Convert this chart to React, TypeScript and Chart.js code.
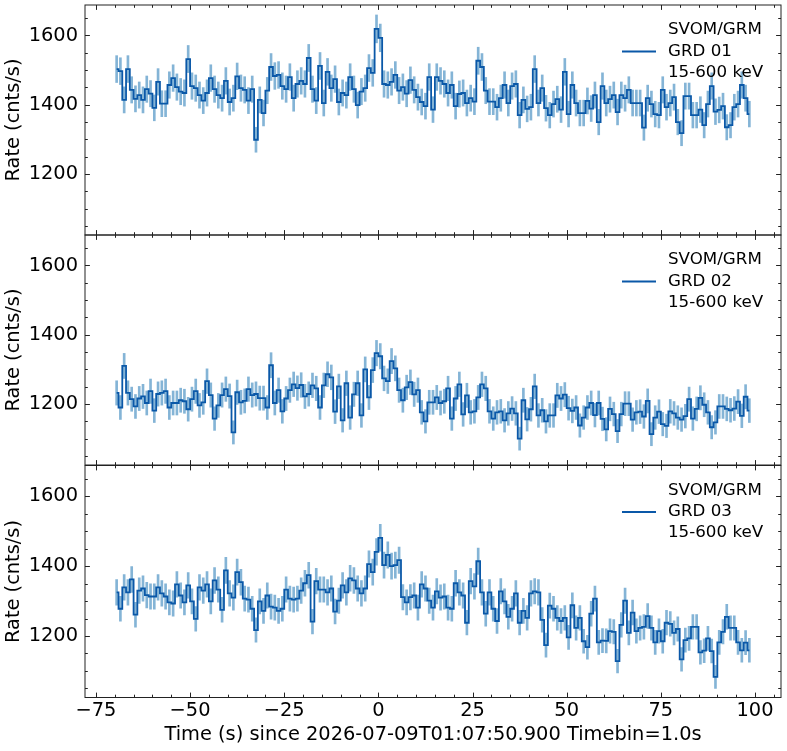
import { useEffect, useRef } from "react"
import { Chart, registerables } from "chart.js"

Chart.register(...registerables)
Chart.defaults.font.family = "'DejaVu Sans', sans-serif"
Chart.defaults.color = "#000"

// time grid: 1 s bins, centres from -69.5 s
const T_START = -69.5
const TIMEBIN = 1.0

const X_MIN = -77.9
const X_MAX = 106.9
const Y_MIN = 1024
const Y_MAX = 1688
const X_MAJOR = [-75, -50, -25, 0, 25, 50, 75, 100]
const Y_MAJOR = [1200, 1400, 1600]
const X_MINOR_STEP = 5
const Y_MINOR_STEP = 50

const X_TITLE = "Time (s) since 2026-07-09T01:07:50.900 Timebin=1.0s"
const Y_TITLE = "Rate (cnts/s)"
const INSTRUMENT = "SVOM/GRM"
const ENERGY_BAND = "15-600 keV"
const DETECTORS = ["GRD 01", "GRD 02", "GRD 03"]

// count rates (cnts/s) per bin
const GRD01_RATE = [
  1503, 1497, 1414, 1503, 1443, 1417, 1428, 1414, 1445, 1432,
  1391, 1466, 1403, 1403, 1457, 1477, 1451, 1438, 1434, 1532,
  1454, 1448, 1428, 1412, 1434, 1477, 1445, 1428, 1419, 1469,
  1408, 1419, 1482, 1448, 1443, 1412, 1445, 1299, 1414, 1376,
  1441, 1509, 1483, 1486, 1454, 1445, 1480, 1419, 1460, 1469,
  1460, 1535, 1445, 1412, 1512, 1405, 1495, 1448, 1474, 1408,
  1434, 1428, 1480, 1445, 1399, 1438, 1448, 1506, 1492, 1619,
  1593, 1460, 1457, 1466, 1486, 1441, 1451, 1432, 1471, 1443,
  1422, 1408, 1396, 1480, 1386, 1480, 1469, 1460, 1434, 1457,
  1396, 1431, 1434, 1405, 1419, 1409, 1527, 1509, 1441, 1409,
  1409, 1393, 1419, 1457, 1405, 1454, 1460, 1370, 1414, 1388,
  1393, 1503, 1405, 1448, 1390, 1370, 1402, 1416, 1386, 1495,
  1373, 1457, 1405, 1376, 1376, 1411, 1389, 1428, 1350, 1454,
  1405, 1416, 1428, 1379, 1428, 1419, 1443, 1405, 1405, 1405,
  1334, 1419, 1402, 1373, 1370, 1443, 1393, 1405, 1422, 1350,
  1318, 1425, 1425, 1370, 1370, 1386, 1341, 1402, 1454, 1380,
  1385, 1396, 1335, 1341, 1393, 1402, 1457, 1419, 1373,
]

const GRD02_RATE = [
  1232, 1190, 1310, 1232, 1214, 1193, 1216, 1222, 1203, 1237,
  1181, 1229, 1232, 1237, 1190, 1203, 1203, 1211, 1208, 1185,
  1214, 1237, 1196, 1205, 1266, 1226, 1158, 1196, 1226, 1243,
  1223, 1118, 1234, 1205, 1209, 1243, 1226, 1229, 1217, 1217,
  1190, 1312, 1203, 1240, 1179, 1216, 1240, 1257, 1246, 1255,
  1222, 1229, 1254, 1245, 1190, 1254, 1286, 1277, 1178, 1251,
  1153, 1260, 1161, 1228, 1260, 1167, 1300, 1219, 1298, 1347,
  1338, 1274, 1266, 1324, 1303, 1240, 1211, 1248, 1263, 1228,
  1240, 1176, 1150, 1205, 1205, 1219, 1203, 1208, 1245, 1158,
  1216, 1257, 1170, 1225, 1176, 1179, 1219, 1257, 1245, 1179,
  1158, 1176, 1179, 1153, 1173, 1187, 1173, 1100, 1211, 1156,
  1185, 1251, 1167, 1182, 1150, 1167, 1167, 1225, 1216, 1227,
  1188, 1180, 1190, 1138, 1161, 1190, 1203, 1168, 1203, 1157,
  1127, 1186, 1171, 1122, 1171, 1201, 1201, 1155, 1176, 1178,
  1164, 1209, 1113, 1161, 1178, 1142, 1137, 1179, 1173, 1161,
  1155, 1165, 1214, 1158, 1186, 1218, 1198, 1176, 1133, 1147,
  1193, 1193, 1186, 1182, 1187, 1207, 1166, 1221, 1181,
]

const GRD03_RATE = [
  1325, 1278, 1339, 1325, 1362, 1261, 1330, 1336, 1317, 1313,
  1313, 1339, 1322, 1313, 1296, 1293, 1348, 1316, 1296, 1345,
  1299, 1249, 1339, 1330, 1348, 1299, 1359, 1333, 1275, 1388,
  1322, 1310, 1383, 1354, 1307, 1304, 1278, 1217, 1299, 1272,
  1316, 1284, 1281, 1272, 1278, 1333, 1307, 1304, 1307, 1330,
  1351, 1374, 1241, 1357, 1333, 1333, 1325, 1336, 1270, 1301,
  1345, 1325, 1365, 1359, 1336, 1322, 1336, 1406, 1383, 1441,
  1481, 1403, 1432, 1400, 1403, 1417, 1311, 1296, 1311, 1316,
  1281, 1348, 1336, 1301, 1281, 1328, 1310, 1313, 1281, 1278,
  1351, 1325, 1316, 1238, 1357, 1342, 1414, 1325, 1264, 1325,
  1278, 1243, 1328, 1299, 1255, 1278, 1322, 1238, 1272, 1252,
  1322, 1328, 1325, 1246, 1174, 1287, 1278, 1252, 1243, 1252,
  1196, 1288, 1223, 1252, 1185, 1168, 1264, 1307, 1182, 1187,
  1186, 1214, 1212, 1128, 1232, 1301, 1209, 1267, 1214, 1223,
  1226, 1257, 1223, 1182, 1214, 1185, 1238, 1235, 1209, 1220,
  1133, 1188, 1193, 1226, 1226, 1153, 1158, 1193, 1157, 1083,
  1182, 1212, 1255, 1223, 1223, 1182, 1159, 1181, 1159,
]

const LINE_COLOR = "#0a58a8"
const ERR_COLOR = "rgba(31, 119, 180, 0.55)"
const FRAME_COLOR = "#222"
const FONT_SIZE = 19.4

const framePlugin = {
  id: "frame",
  afterDraw(chart: any, _args: any, opts: any) {
    const { ctx, chartArea, scales } = chart
    const { left, right, top, bottom } = chartArea
    ctx.save()
    ctx.strokeStyle = FRAME_COLOR
    ctx.lineWidth = 1
    ctx.strokeRect(left, top, right - left, bottom - top)

    // inward ticks on all four sides
    ctx.beginPath()
    for (let v = Math.ceil(X_MIN / X_MINOR_STEP) * X_MINOR_STEP; v <= X_MAX; v += X_MINOR_STEP) {
      const px = Math.round(scales.x.getPixelForValue(v)) + 0.5
      const len = X_MAJOR.includes(v) ? 4.9 : 2.8
      ctx.moveTo(px, bottom)
      ctx.lineTo(px, bottom - len)
      ctx.moveTo(px, top)
      ctx.lineTo(px, top + len)
    }
    for (let v = Math.ceil(Y_MIN / Y_MINOR_STEP) * Y_MINOR_STEP; v <= Y_MAX; v += Y_MINOR_STEP) {
      const py = Math.round(scales.y.getPixelForValue(v)) + 0.5
      const len = Y_MAJOR.includes(v) ? 4.9 : 2.8
      ctx.moveTo(left, py)
      ctx.lineTo(left + len, py)
      ctx.moveTo(right, py)
      ctx.lineTo(right - len, py)
    }
    ctx.stroke()

    // legend
    const lines = [INSTRUMENT, opts.detector, ENERGY_BAND]
    ctx.fillStyle = "#000"
    ctx.font = "16.7px 'DejaVu Sans'"
    ctx.textAlign = "left"
    ctx.textBaseline = "alphabetic"
    lines.forEach((s: string, i: number) => ctx.fillText(s, right - 113, top + 29.3 + i * 21.3))
    ctx.strokeStyle = LINE_COLOR
    ctx.lineWidth = 1.8
    ctx.beginPath()
    ctx.moveTo(right - 159, top + 46.5)
    ctx.lineTo(right - 125, top + 46.5)
    ctx.stroke()
    ctx.restore()
  },
}

interface PanelProps {
  rates: number[]
  detector: string
  top: number
  height: number
  padTop: number
  padBottom: number
  showXAxis: boolean
}

function Panel({ rates, detector, top, height, padTop, padBottom, showXAxis }: PanelProps) {
  const canvasRef = useRef<HTMLCanvasElement>(null)

  useEffect(() => {
    if (!canvasRef.current) return
    const times = rates.map((_, i) => T_START + i * TIMEBIN)
    const errors = rates.map((r) => Math.sqrt(r * TIMEBIN) / TIMEBIN)

    const chart = new Chart(canvasRef.current, {
      type: "bar",
      data: {
        datasets: [
          {
            type: "line",
            data: rates.map((r, i) => ({ x: times[i], y: r })),
            borderColor: LINE_COLOR,
            borderWidth: 1.8,
            stepped: "middle",
            pointRadius: 0,
            fill: false,
            order: 0,
          },
          {
            type: "bar",
            data: rates.map((r, i) => ({ x: times[i], y: [r - errors[i], r + errors[i]] })),
            backgroundColor: ERR_COLOR,
            borderWidth: 0,
            barThickness: 2,
            grouped: false,
            order: 1,
          },
        ] as any,
      },
      options: {
        responsive: false,
        animation: false,
        events: [],
        layout: { padding: { top: padTop, bottom: padBottom, left: 0, right: 6 } },
        plugins: {
          legend: { display: false },
          tooltip: { enabled: false },
          frame: { detector },
        } as any,
        scales: {
          x: {
            type: "linear",
            min: X_MIN,
            max: X_MAX,
            offset: false,
            display: showXAxis,
            grid: { display: false, drawTicks: false },
            border: { display: false },
            afterBuildTicks: (s: any) => {
              s.ticks = X_MAJOR.map((value) => ({ value }))
            },
            ticks: {
              font: { size: FONT_SIZE },
              padding: 2,
              maxRotation: 0,
              autoSkip: false,
              callback: (v: any) => `${v}`.replace("-", "\u2212"),
            },
            title: { display: true, text: X_TITLE, font: { size: FONT_SIZE }, padding: { top: 0, bottom: 4 } },
            afterFit: (s: any) => {
              if (!showXAxis) return
              s.height = 53.5
              s.paddingLeft = 0
              s.paddingRight = 0
            },
          },
          y: {
            type: "linear",
            min: Y_MIN,
            max: Y_MAX,
            grid: { display: false, drawTicks: false },
            border: { display: false },
            afterBuildTicks: (s: any) => {
              s.ticks = Y_MAJOR.map((value) => ({ value }))
            },
            ticks: { font: { size: FONT_SIZE }, padding: 7, callback: (v: any) => `${v}` },
            title: { display: true, text: Y_TITLE, font: { size: FONT_SIZE }, padding: { top: 2.5, bottom: 0 } },
            afterFit: (s: any) => {
              s.width = 85
              s.paddingTop = 0
              s.paddingBottom = 0
            },
          },
        },
      } as any,
      plugins: [framePlugin],
    })

    return () => {
      chart.destroy()
    }
  }, [rates, detector, padTop, padBottom, showXAxis])

  return (
    <canvas
      ref={canvasRef}
      width={787}
      height={height}
      style={{ position: "absolute", left: 0, top, width: 787, height }}
    />
  )
}

export default function App() {
  return (
    <div style={{ position: "absolute", left: 0, top: 0, width: 787, height: 751, background: "#fff" }}>
      <Panel rates={GRD01_RATE} detector={DETECTORS[0]} top={0} height={240} padTop={5} padBottom={5} showXAxis={false} />
      <Panel rates={GRD02_RATE} detector={DETECTORS[1]} top={230} height={240} padTop={5} padBottom={5} showXAxis={false} />
      <Panel rates={GRD03_RATE} detector={DETECTORS[2]} top={460} height={291} padTop={5.5} padBottom={0} showXAxis={true} />
    </div>
  )
}
